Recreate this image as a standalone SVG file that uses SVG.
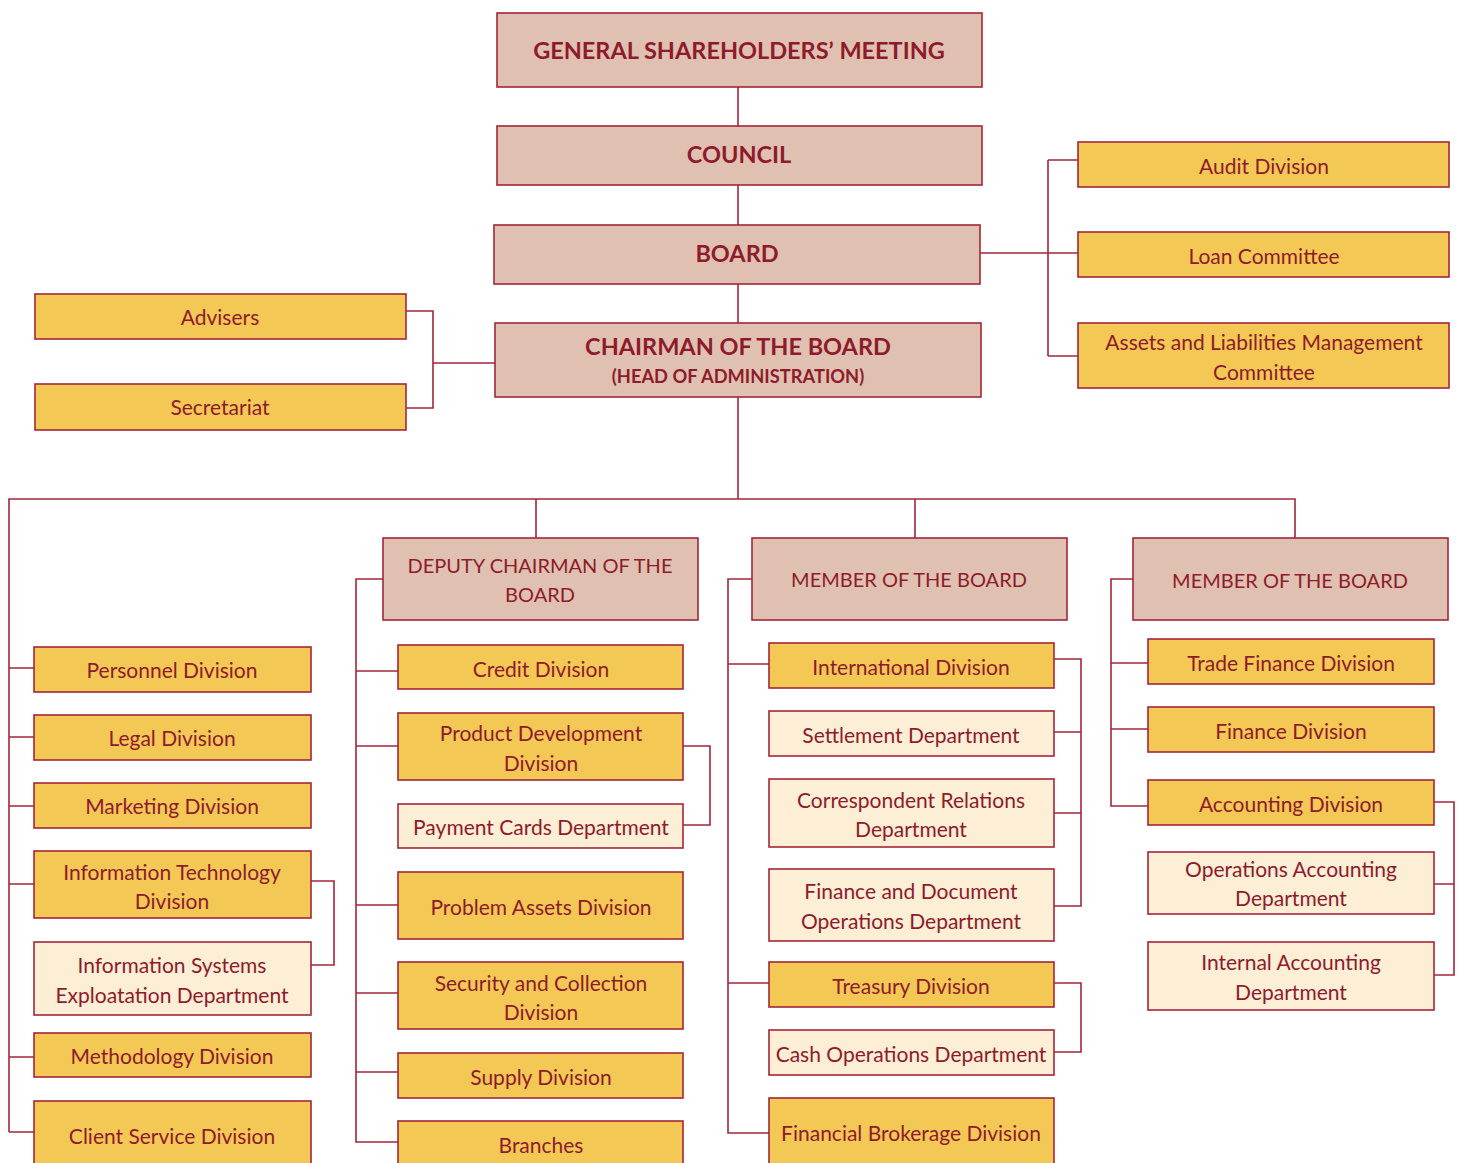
<svg xmlns="http://www.w3.org/2000/svg" width="1463" height="1163" viewBox="0 0 1463 1163">
<style>
.hd{fill:#E0C0B0;stroke:#A3263A;stroke-width:1.6}
.dv{fill:#F3C855;stroke:#A3263A;stroke-width:1.6}
.dp{fill:#FDEED6;stroke:#A3263A;stroke-width:1.6}
text{font-family:Lato,"Noto Sans",sans-serif;fill:#8E1B2C;text-anchor:middle;dominant-baseline:central;font-size:21px}
.b{font-weight:bold;font-size:23.5px}
.s{font-weight:bold;font-size:18.3px}
.m{font-size:20px}
#connectors path{fill:none;stroke:#A3263A;stroke-width:1.6}
</style>
<rect width="1463" height="1163" fill="#FFFFFF"/>
<g id="connectors">
<path d="M738 87V126M738 185V225M738 284V323M738 397V499"/>
<path d="M980 253H1078M1048 160V356M1048 160H1078M1048 356H1078"/>
<path d="M406 311H433V408H406M433 363H495"/>
<path d="M9 1132V499H1295V538M536 499V538M915 499V538"/>
<path d="M9 668H34M9 737H34M9 806H34M9 884H34M9 1057H34M9 1132H34"/>
<path d="M311 881H334V965H311"/>
<path d="M383 579H356V1142H398M356 671H398M356 746H398M356 905H398M356 993H398M356 1072H398"/>
<path d="M683 746H710V825H683"/>
<path d="M752 579H728V1133H769M728 664H769M728 983H769"/>
<path d="M1054 659H1081V906H1054M1054 732H1081M1054 813H1081"/>
<path d="M1054 983H1081V1052H1054"/>
<path d="M1133 579H1111V806H1148M1111 663H1148M1111 729H1148"/>
<path d="M1434 802H1454V975H1434M1434 884H1454"/>
</g>
<g id="gsm"><rect class="hd" x="497" y="13" width="485" height="74"/><text class="b" x="739" y="50">GENERAL SHAREHOLDERS’ MEETING</text></g>
<g id="council"><rect class="hd" x="497" y="126" width="485" height="59"/><text class="b" x="739" y="154">COUNCIL</text></g>
<g id="board"><rect class="hd" x="494" y="225" width="486" height="59"/><text class="b" x="737" y="253">BOARD</text></g>
<g id="chairman"><rect class="hd" x="495" y="323" width="486" height="74"/><text class="b" x="738" y="346">CHAIRMAN OF THE BOARD</text><text class="s" x="738" y="376">(HEAD OF ADMINISTRATION)</text></g>
<g id="advisers"><rect class="dv" x="35" y="294" width="371" height="45"/><text x="220" y="316">Advisers</text></g>
<g id="secretariat"><rect class="dv" x="35" y="384" width="371" height="46"/><text x="220" y="406">Secretariat</text></g>
<g id="audit"><rect class="dv" x="1078" y="142" width="371" height="45"/><text x="1264" y="165">Audit Division</text></g>
<g id="loan"><rect class="dv" x="1078" y="232" width="371" height="45"/><text x="1264" y="255">Loan Committee</text></g>
<g id="alm"><rect class="dv" x="1078" y="323" width="371" height="65"/><text x="1264" y="341">Assets and Liabilities Management</text><text x="1264" y="371">Committee</text></g>
<g id="deputy"><rect class="hd" x="383" y="538" width="315" height="82"/><text class="m" x="540" y="565">DEPUTY CHAIRMAN OF THE</text><text class="m" x="540" y="594">BOARD</text></g>
<g id="member1"><rect class="hd" x="752" y="538" width="315" height="82"/><text class="m" x="909" y="579">MEMBER OF THE BOARD</text></g>
<g id="member2"><rect class="hd" x="1133" y="538" width="315" height="82"/><text class="m" x="1290" y="580">MEMBER OF THE BOARD</text></g>
<g id="personnel"><rect class="dv" x="34" y="647" width="277" height="45"/><text x="172" y="669">Personnel Division</text></g>
<g id="legal"><rect class="dv" x="34" y="715" width="277" height="45"/><text x="172" y="737">Legal Division</text></g>
<g id="marketing"><rect class="dv" x="34" y="783" width="277" height="45"/><text x="172" y="805">Marketing Division</text></g>
<g id="it"><rect class="dv" x="34" y="851" width="277" height="67"/><text x="172" y="871">Information Technology</text><text x="172" y="900">Division</text></g>
<g id="ised"><rect class="dp" x="34" y="942" width="277" height="73"/><text x="172" y="964">Information Systems</text><text x="172" y="994">Exploatation Department</text></g>
<g id="methodology"><rect class="dv" x="34" y="1033" width="277" height="44"/><text x="172" y="1055">Methodology Division</text></g>
<g id="client"><rect class="dv" x="34" y="1101" width="277" height="70"/><text x="172" y="1135">Client Service Division</text></g>
<g id="credit"><rect class="dv" x="398" y="645" width="285" height="44"/><text x="541" y="668">Credit Division</text></g>
<g id="product"><rect class="dv" x="398" y="713" width="285" height="67"/><text x="541" y="732">Product Development</text><text x="541" y="762">Division</text></g>
<g id="payment"><rect class="dp" x="398" y="804" width="285" height="44"/><text x="541" y="826">Payment Cards Department</text></g>
<g id="problem"><rect class="dv" x="398" y="872" width="285" height="67"/><text x="541" y="906">Problem Assets Division</text></g>
<g id="security"><rect class="dv" x="398" y="962" width="285" height="67"/><text x="541" y="982">Security and Collection</text><text x="541" y="1011">Division</text></g>
<g id="supply"><rect class="dv" x="398" y="1053" width="285" height="45"/><text x="541" y="1076">Supply Division</text></g>
<g id="branches"><rect class="dv" x="398" y="1121" width="285" height="50"/><text x="541" y="1144">Branches</text></g>
<g id="international"><rect class="dv" x="769" y="643" width="285" height="45"/><text x="911" y="666">International Division</text></g>
<g id="settlement"><rect class="dp" x="769" y="711" width="285" height="45"/><text x="911" y="734">Settlement Department</text></g>
<g id="correspondent"><rect class="dp" x="769" y="779" width="285" height="68"/><text x="911" y="799">Correspondent Relations</text><text x="911" y="828">Department</text></g>
<g id="fdo"><rect class="dp" x="769" y="869" width="285" height="72"/><text x="911" y="890">Finance and Document</text><text x="911" y="920">Operations Department</text></g>
<g id="treasury"><rect class="dv" x="769" y="962" width="285" height="45"/><text x="911" y="985">Treasury Division</text></g>
<g id="cash"><rect class="dp" x="769" y="1030" width="285" height="45"/><text x="911" y="1053">Cash Operations Department</text></g>
<g id="brokerage"><rect class="dv" x="769" y="1098" width="285" height="73"/><text x="911" y="1132">Financial Brokerage Division</text></g>
<g id="trade"><rect class="dv" x="1148" y="639" width="286" height="45"/><text x="1291" y="662">Trade Finance Division</text></g>
<g id="finance"><rect class="dv" x="1148" y="707" width="286" height="45"/><text x="1291" y="730">Finance Division</text></g>
<g id="accounting"><rect class="dv" x="1148" y="780" width="286" height="45"/><text x="1291" y="803">Accounting Division</text></g>
<g id="opsacc"><rect class="dp" x="1148" y="852" width="286" height="62"/><text x="1291" y="868">Operations Accounting</text><text x="1291" y="897">Department</text></g>
<g id="intacc"><rect class="dp" x="1148" y="942" width="286" height="68"/><text x="1291" y="961">Internal Accounting</text><text x="1291" y="991">Department</text></g>
</svg>
